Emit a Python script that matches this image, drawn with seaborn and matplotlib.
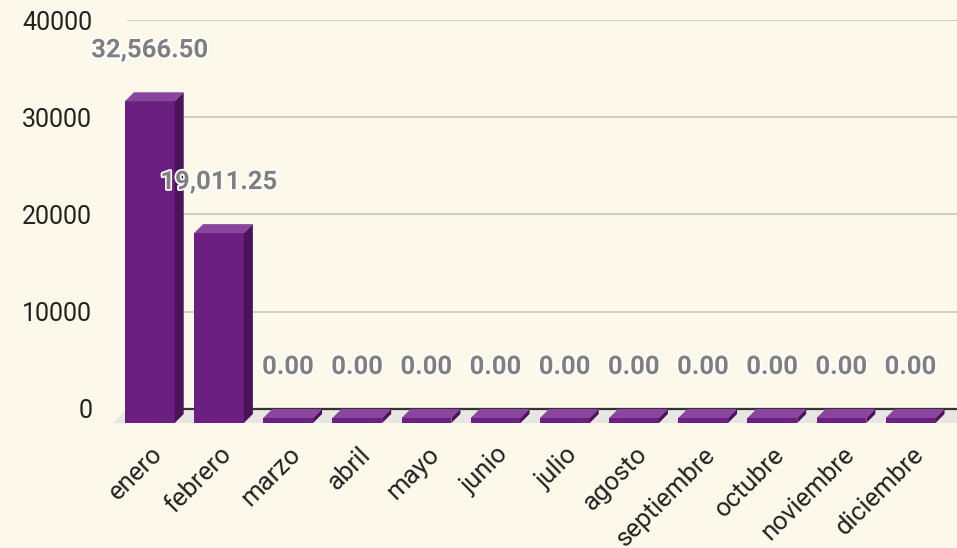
import matplotlib
matplotlib.use('Agg')
import matplotlib.pyplot as plt
import matplotlib.patheffects as pe
from matplotlib.patches import Polygon
import seaborn as sns

meses = ['enero', 'febrero', 'marzo', 'abril', 'mayo', 'junio', 'julio',
         'agosto', 'septiembre', 'octubre', 'noviembre', 'diciembre']
montos = [32566.50, 19011.25, 0, 0, 0, 0, 0, 0, 0, 0, 0, 0]
y_ticks = [0, 10000, 20000, 30000, 40000]

fondo = '#fcf8ea'
frente = '#6b1f80'
tapa = '#8a469e'
lado = '#4a1459'
piso = '#e7e6e2'
grilla = '#cfcab8'

sns.set_theme(style='white', rc={'axes.facecolor': fondo, 'figure.facecolor': fondo})
plt.rcParams['font.family'] = ['Roboto', 'DejaVu Sans']

W, H = 957, 548
fig = plt.figure(figsize=(W / 100, H / 100), dpi=100)
ax_l, ax_b, ax_w, ax_h = 127, 139, 830, 389
ax = fig.add_axes([ax_l / W, ax_b / H, ax_w / W, ax_h / H])

sns.barplot(x=meses, y=montos, color=frente, saturation=1, width=0.72,
            errorbar=None, ax=ax, zorder=3)
barras = list(ax.patches)

x_lo, x_hi = -0.46, len(meses) - 0.46
ax.set_xlim(x_lo, x_hi)
ax.set_ylim(0, 40000)

# pixel -> data conversion for the fake 3d depth
px_x = (x_hi - x_lo) / ax_w
px_y = 40000 / ax_h
dx, dy = 9 * px_x, 9 * px_y          # depth of bars
grosor = 5 * px_y                    # floor thickness below front
fdx, fdy = 14 * px_x, 14 * px_y      # depth of floor

# floor
suelo = Polygon([(x_lo, 0), (x_hi + 1, 0), (x_hi + 1 - fdx, -fdy), (x_lo - fdx, -fdy)],
                closed=True, facecolor=piso, edgecolor='none', zorder=1, clip_on=False)
ax.add_patch(suelo)
ax.axhline(0, color='#333333', lw=1.6, zorder=2, clip_on=False)

for p in barras:
    x0, w, h = p.get_x(), p.get_width(), p.get_height()
    p.set_x(x0 - dx)
    p.set_y(-dy - grosor)
    p.set_height(h + grosor)
    p.set_clip_on(False)
    p.set_edgecolor('none')
    top = Polygon([(x0 - dx, h - dy), (x0 + w - dx, h - dy), (x0 + w, h), (x0, h)],
                  closed=True, facecolor=tapa, edgecolor='none', zorder=3, clip_on=False)
    side = Polygon([(x0 + w - dx, -dy - grosor), (x0 + w - dx, h - dy), (x0 + w, h), (x0 + w, -grosor)],
                   closed=True, facecolor=lado, edgecolor='none', zorder=3, clip_on=False)
    ax.add_patch(top)
    ax.add_patch(side)

# value labels
for i, v in enumerate(montos):
    ax.annotate(f'{v:,.2f}', xy=(i, v), xytext=(-9, 42), textcoords='offset pixels',
                ha='center', va='center', fontsize=18.5, fontweight='bold', color='#7f7f7f',
                zorder=6, path_effects=[pe.withStroke(linewidth=2.5, foreground='white')])

ax.set_yticks(y_ticks)
ax.set_yticklabels([str(t) for t in y_ticks])
ax.grid(axis='y', color=grilla, lw=1.3)
ax.grid(axis='x', visible=False)
ax.set_axisbelow(True)
ax.tick_params(axis='y', length=0, pad=25, labelsize=18, labelcolor='#222222')
ax.tick_params(axis='x', length=0, pad=30, labelsize=18.5, labelcolor='#222222')
for lab in ax.get_xticklabels():
    lab.set_rotation(45)
    lab.set_ha('right')
    lab.set_va('center')
    lab.set_rotation_mode('anchor')
ax.set_xlabel('')
ax.set_ylabel('')
sns.despine(ax=ax, left=True, bottom=True)

fig.savefig('out.png', dpi=100, facecolor=fondo)
